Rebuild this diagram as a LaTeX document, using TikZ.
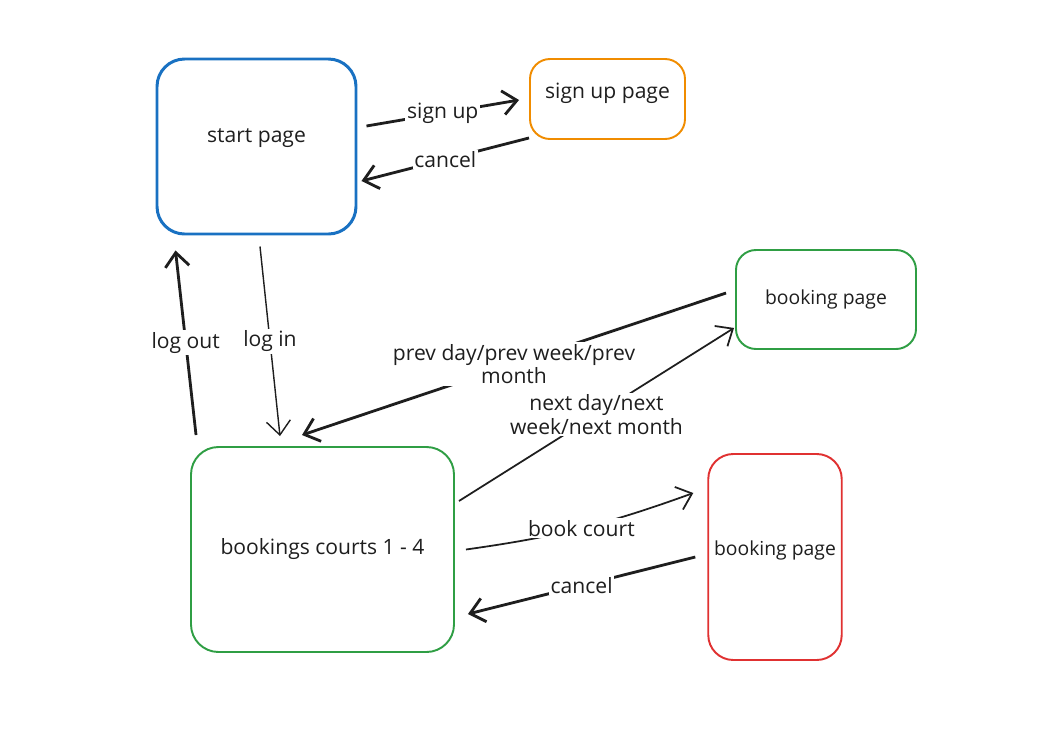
\documentclass[tikz,border=0pt]{standalone}
\usepackage{fontspec}
\setmainfont{Open Sans}
\usetikzlibrary{arrows.meta}
\definecolor{ink}{HTML}{1E1E1E}
\definecolor{exblue}{HTML}{1971C2}
\definecolor{exorange}{HTML}{F08C00}
\definecolor{exgreen}{HTML}{2F9E44}
\definecolor{exred}{HTML}{E03131}

\begin{document}
\begin{tikzpicture}[font=\fontsize{12}{13.5}\selectfont, text=ink]

\tikzset{page/.style = {shape=rectangle, draw, rounded corners=0.55cm, line width=1.1pt, align=center}}
\tikzset{small/.style = {font=\fontsize{11}{13}\selectfont}}
\tikzset{arc/.style = {-{Straight Barb[length=2.8mm,width=4.8mm]}, draw=ink, line width=1.6pt}}
\tikzset{thinarc/.style = {arc, line width=1pt}}
\tikzset{lbl/.style = {fill=white, inner sep=1pt, align=center}}

\useasboundingbox (0,0) rectangle (21,-14.86);

% pages
\node[page, draw=exblue, line width=1.7pt, text depth=0.44cm, minimum width=3.98cm, minimum height=3.5cm] (start) at (5.13,-2.93) {start page};
\node[page, draw=exorange, rounded corners=0.4cm, text depth=0.34cm, minimum width=3.1cm, minimum height=1.6cm] (signup) at (12.15,-1.98) {sign up page};
\node[page, small, draw=exgreen, rounded corners=0.4cm, minimum width=3.6cm, minimum height=1.98cm] (bookG) at (16.52,-5.99) {booking page};
\node[page, draw=exgreen, minimum width=5.26cm, minimum height=4.1cm] (courts) at (6.45,-10.99) {bookings courts 1 - 4};
\node[page, small, draw=exred, rounded corners=0.5cm, text depth=0.34cm, minimum width=2.64cm, minimum height=4.12cm] (bookR) at (15.5,-11.14) {booking page};

% arcs
\draw[arc] ([shift={(0.18,0.41)}]start.east) -- node[lbl] {sign up} ([shift={(-0.2,-0.02)}]signup.west);
\draw[arc] ([yshift=0.04cm]signup.south west) -- node[lbl] {cancel} ([shift={(0.08,-0.69)}]start.east);
\draw[arc] ([shift={(0.12,0.22)}]courts.north west) -- node[lbl] {log out} ([shift={(0.4,-0.3)}]start.south west);
\draw[thinarc, line width=0.8pt] ([shift={(0.07,-0.22)}]start.south) -- node[lbl] {log in} ([shift={(-0.85,0.2)}]courts.north);
\draw[arc] ([shift={(-0.18,0.13)}]bookG.west) -- node[lbl] {prev day/prev week/prev\\month} ([shift={(-0.41,0.22)}]courts.north);
\draw[thinarc] ([shift={(0.08,0.97)}]courts.east) -- node[lbl] {next day/next\\week/next month} ([shift={(-0.02,0.44)}]bookG.south west);
\draw[thinarc] ([shift={(0.22,0)}]courts.east) to[bend right=6] node[lbl] {book court} ([shift={(-0.28,1.28)}]bookR.west);
\draw[arc] ([shift={(-0.24,0)}]bookR.west) -- node[lbl] {cancel} ([shift={(0.26,-1.29)}]courts.east);

\end{tikzpicture}
\end{document}
